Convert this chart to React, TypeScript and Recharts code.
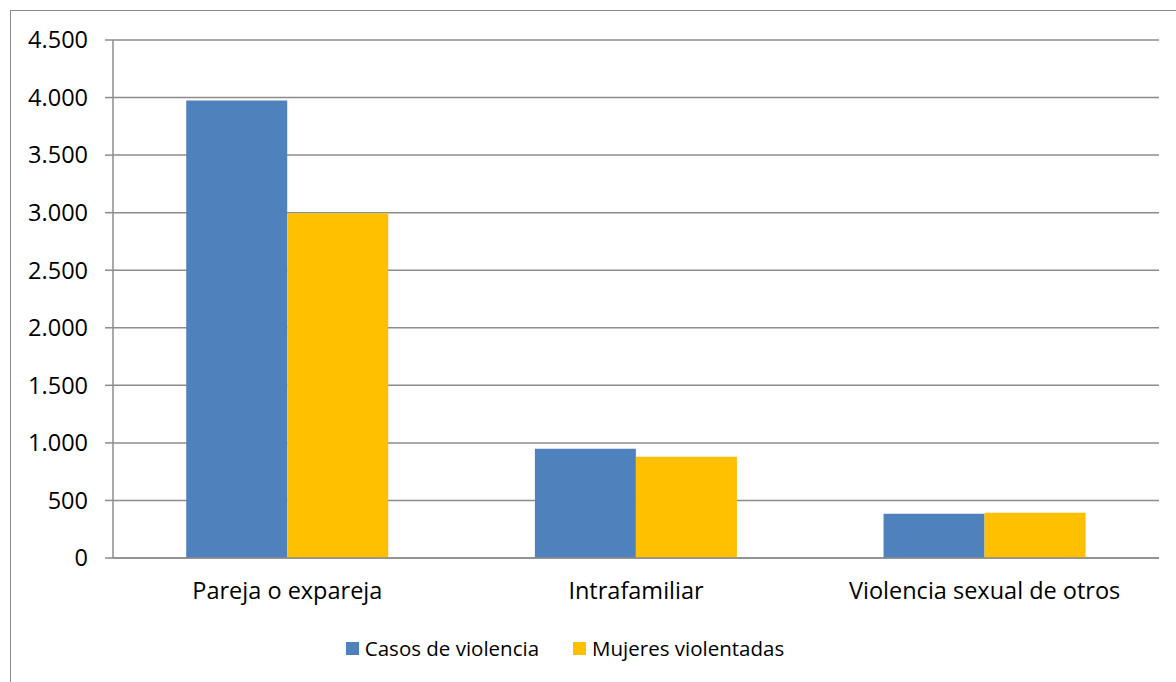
import React from "react";
import { BarChart, Bar, XAxis, YAxis, CartesianGrid, Legend } from "recharts";

const categories = ["Pareja o expareja", "Intrafamiliar", "Violencia sexual de otros"];
const casosDeViolencia = [3975, 950, 385];
const mujeresViolentadas = [2995, 880, 393];
const yTicks = [0, 500, 1000, 1500, 2000, 2500, 3000, 3500, 4000, 4500];
const edgeTicks = [0, 1, 2, 3];

const chartData = categories.map((name, i) => ({
  name,
  casos: casosDeViolencia[i],
  mujeres: mujeresViolentadas[i],
}));

const FONT = "'Open Sans', sans-serif";
const GRAY = "#8c8c8c";

const formatThousands = (v: number) =>
  v.toString().replace(/\B(?=(\d{3})+(?!\d))/g, ".");

const LegendContent = (props: any) => {
  const { payload } = props;
  return (
    <div style={{ display: "flex", justifyContent: "center", fontFamily: FONT, fontSize: 20.5 }}>
      {(payload || []).map((entry: any, i: number) => (
        <div key={i} style={{ display: "flex", alignItems: "center", marginRight: i === 0 ? 34 : 0 }}>
          <span style={{ width: 13, height: 13, background: entry.color, marginRight: 6, display: "inline-block" }} />
          <span style={{ color: "#000" }}>{entry.value}</span>
        </div>
      ))}
    </div>
  );
};

export default function App() {
  return (
    <div style={{ position: "absolute", left: 0, top: 0, width: 1176, height: 682, overflow: "hidden", background: "#fff" }}>
      <div style={{ position: "absolute", left: 10, top: 10, width: 1250, height: 750, border: `1px solid ${GRAY}` }} />
      <div style={{ position: "absolute", left: 0, top: 0 }}>
        <BarChart
          width={1176}
          height={682}
          data={chartData}
          margin={{ top: 40, right: 17, left: 53, bottom: 64 }}
          barCategoryGap="21%"
          barGap={0}
        >
          <CartesianGrid vertical={false} stroke={GRAY} strokeWidth={1.5} />
          <XAxis
            xAxisId="edges"
            type="number"
            domain={[0, 3]}
            ticks={edgeTicks}
            tick={false}
            tickSize={8}
            height={0}
            axisLine={false}
            tickLine={{ stroke: GRAY, strokeWidth: 1.5 }}
          />
          <XAxis
            dataKey="name"
            height={30}
            tickLine={false}
            tickSize={0}
            tickMargin={24}
            axisLine={{ stroke: GRAY, strokeWidth: 1.5 }}
            tick={{ fill: "#000", fontSize: 23.5, fontFamily: FONT }}
          />
          <YAxis
            width={60}
            domain={[0, 4500]}
            ticks={yTicks}
            tickFormatter={formatThousands}
            tickSize={8}
            tickMargin={17}
            axisLine={{ stroke: GRAY, strokeWidth: 1.5 }}
            tickLine={{ stroke: GRAY, strokeWidth: 1.5 }}
            tick={{ fill: "#000", fontSize: 23.5, fontFamily: FONT }}
          />
          <Legend
            height={30}
            verticalAlign="bottom"
            content={<LegendContent />}
            wrapperStyle={{ bottom: 18, left: 0, width: 1130 }}
          />
          <Bar dataKey="casos" name="Casos de violencia" fill="#4F81BD" isAnimationActive={false} />
          <Bar dataKey="mujeres" name="Mujeres violentadas" fill="#FFC000" isAnimationActive={false} />
        </BarChart>
      </div>
    </div>
  );
}
